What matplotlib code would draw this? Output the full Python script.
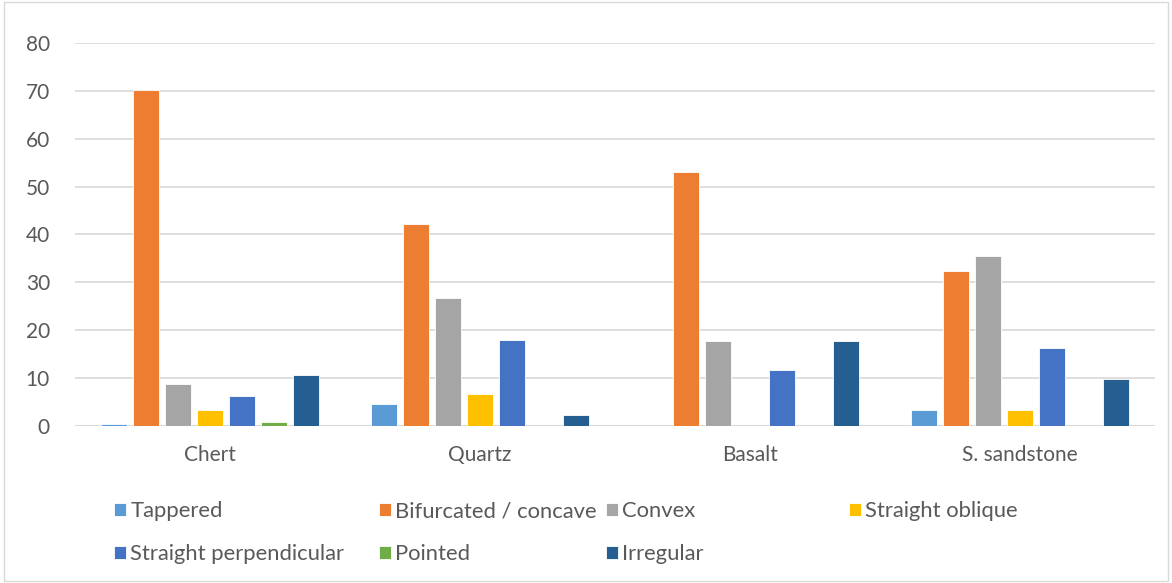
"""Bar chart of edge shapes by raw material."""

import matplotlib.pyplot as plt
from matplotlib.patches import Rectangle

CATEGORIES = ["Chert", "Quartz", "Basalt", "S. sandstone"]
SERIES = ["Tappered", "Bifurcated / concave", "Convex", "Straight oblique",
          "Straight perpendicular", "Pointed", "Irregular"]
COLORS = ["#5B9BD5", "#ED7D31", "#A5A5A5", "#FFC000",
          "#4472C4", "#70AD47", "#255E91"]

tappered = [0.4, 4.5, 0.0, 3.3]
bifurcated = [70.2, 42.2, 53.0, 32.3]
convex = [8.8, 26.7, 17.7, 35.6]
straight_oblique = [3.3, 6.7, 0.0, 3.3]
straight_perp = [6.2, 17.9, 11.8, 16.2]
pointed = [0.8, 0.0, 0.0, 0.0]
irregular = [10.6, 2.3, 17.7, 9.8]

VALUES = [tappered, bifurcated, convex, straight_oblique,
          straight_perp, pointed, irregular]


def main():
    plt.rcParams["font.family"] = ["Lato", "DejaVu Sans"]
    fig = plt.figure(figsize=(11.72, 5.83), dpi=100)
    ax = fig.add_axes([75 / 1172, 1 - 426 / 583, 1080 / 1172, 383 / 583])

    step = 0.1185
    width = 0.093
    handles = []
    for i, (name, vals, col) in enumerate(zip(SERIES, VALUES, COLORS)):
        xs = [c + (i - 3) * step for c in range(len(CATEGORIES))]
        h = ax.bar(xs, vals, width, color=col, label=name,
                   edgecolor="white", linewidth=0.6, zorder=3)
        handles.append(h)

    ax.set_xlim(-0.5, 3.5)
    ax.set_ylim(0, 80)
    ax.set_yticks(range(0, 81, 10))
    ax.set_xticks(range(len(CATEGORIES)))
    ax.set_xticklabels(CATEGORIES)
    ax.yaxis.grid(True, color="#d9d9d9", linewidth=1.2, zorder=0)
    for s in ax.spines.values():
        s.set_visible(False)
    ax.axhline(0, color="#d9d9d9", linewidth=1.5, zorder=2)
    ax.tick_params(length=0, labelsize=15, colors="#595959")
    ax.tick_params(axis="x", pad=14)
    ax.tick_params(axis="y", pad=18)

    # legend: four columns at fixed positions like the original
    cols = [[0, 4], [1, 5], [2, 6], [3]]
    xpos = [114, 379, 606, 849]
    for xp, idx in zip(xpos, cols):
        leg = fig.legend([handles[k] for k in idx], [SERIES[k] for k in idx],
                         loc="upper left", bbox_to_anchor=(xp / 1172, 1 - 501 / 583),
                         frameon=False, fontsize=15.8, handlelength=0.55,
                         handleheight=0.55, handletextpad=0.2, labelspacing=1.05,
                         borderaxespad=0, borderpad=0)
        for t in leg.get_texts():
            t.set_color("#595959")

    fig.patches.append(Rectangle((0.003, 0.003), 0.994, 0.994,
                                 transform=fig.transFigure, fill=False,
                                 edgecolor="#d9d9d9", linewidth=1))
    fig.savefig("out.png", dpi=100)


if __name__ == "__main__":
    main()
